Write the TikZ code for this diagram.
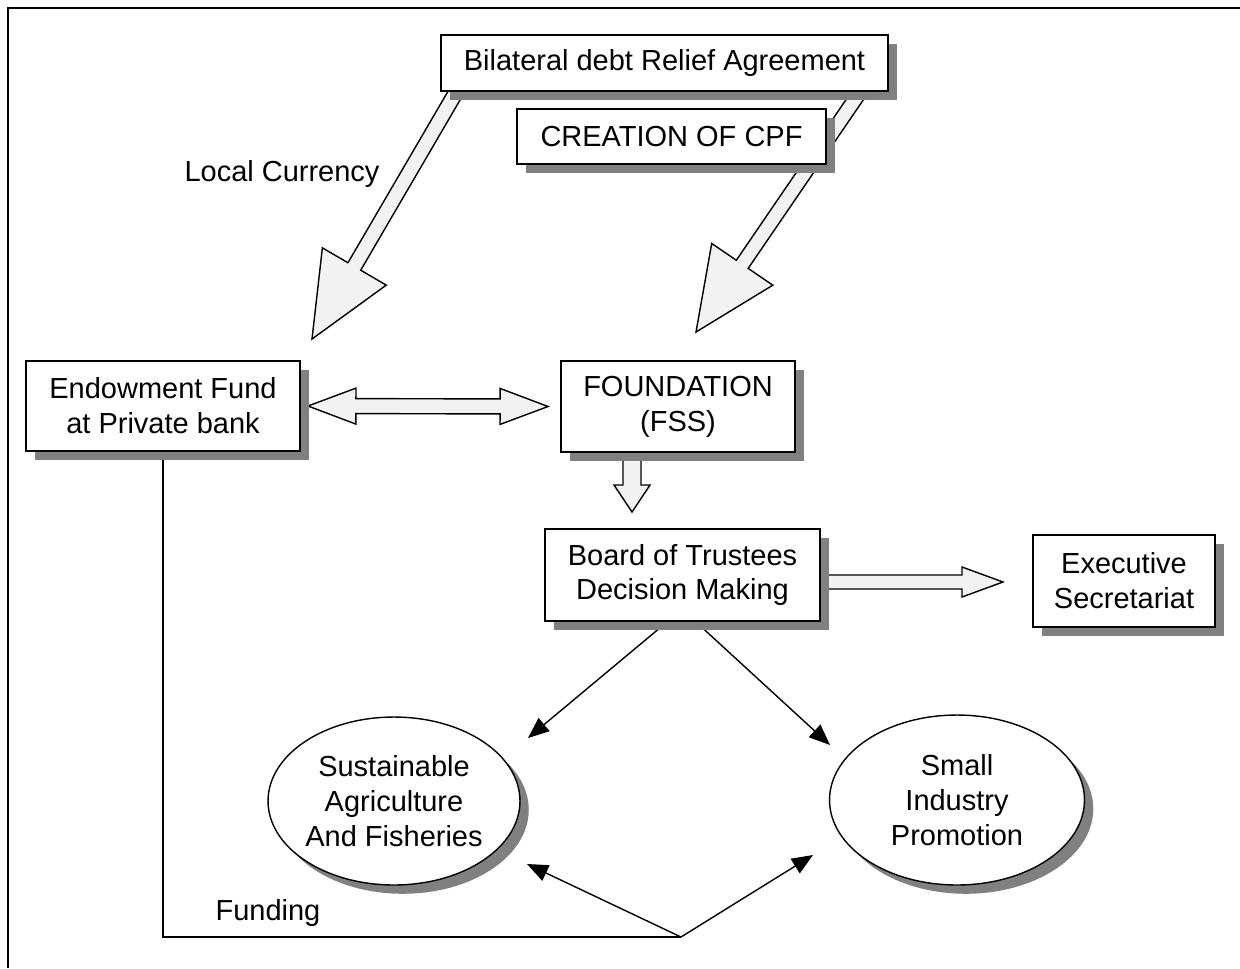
\documentclass[tikz,border=0pt]{standalone}
\usepackage{fontspec}
\setmainfont{Liberation Sans}
\usetikzlibrary{calc,shapes.geometric,shadows,backgrounds,arrows.meta}
\tikzset{
  txt/.style={font=\fontsize{16.5}{19.8}\selectfont, align=center},
  shad/.style={drop shadow={shadow xshift=5pt, shadow yshift=-5pt, fill=black!50, opacity=1}},
  sbox/.style={txt, shad, draw, line width=1.1pt, fill=white, inner sep=0pt},
  soval/.style={txt, shad, ellipse, draw, line width=0.8pt, fill=white, inner sep=0pt},
  fat/.style={draw, line width=0.8pt, fill=black!5, line join=miter},
  thin/.style={line width=0.8pt, -{Triangle[length=0.42cm,width=0.34cm]}},
  plain/.style={line width=0.8pt}
}
\newcommand\fatarr[6]{%
  \coordinate (#1h) at ($(#3)!#6!(#2)$);
  \draw[fat] ($(#2)!#4!90:(#3)$) -- ($(#1h)!#4!90:(#3)$) -- ($(#1h)!#5!90:(#3)$) -- (#3)
    -- ($(#1h)!#5!-90:(#3)$) -- ($(#1h)!#4!-90:(#3)$) -- ($(#2)!#4!-90:(#3)$) -- cycle;}
\newcommand\dblarr[6]{%
  \coordinate (#1a) at ($(#2)!#6!(#3)$);
  \coordinate (#1b) at ($(#3)!#6!(#2)$);
  \draw[fat] (#2) -- ($(#1a)!#5!90:(#3)$) -- ($(#1a)!#4!90:(#3)$) -- ($(#1b)!#4!-90:(#2)$)
    -- ($(#1b)!#5!-90:(#2)$) -- (#3) -- ($(#1b)!#5!90:(#2)$) -- ($(#1b)!#4!90:(#2)$)
    -- ($(#1a)!#4!-90:(#3)$) -- ($(#1a)!#5!-90:(#3)$) -- cycle;}
\begin{document}
\begin{tikzpicture}[x=0.02cm,y=-0.02cm]
\useasboundingbox (0,0) rectangle (1240,968);
\draw[line width=1.2pt] (8,968) -- (8,8) -- (1240,8);

% boxes
\node[sbox, minimum width=8.94cm, minimum height=1.12cm] (bilat) at (664.5,63) {Bilateral debt Relief Agreement};
\node[sbox, minimum width=6.18cm, minimum height=1.10cm] (cpf) at (671.5,136.5) {CREATION OF CPF};
\node[sbox, minimum width=5.48cm, minimum height=1.80cm] (endow) at (163,406) {Endowment Fund\\at Private bank};
\node[sbox, minimum width=4.68cm, minimum height=1.82cm] (found) at (678,406.5) {FOUNDATION\\(FSS)};
\node[sbox, minimum width=5.50cm, minimum height=1.84cm] (board) at (682.5,575) {Board of Trustees\\Decision Making};
\node[sbox, minimum width=3.64cm, minimum height=1.84cm] (exec) at (1124,581) {Executive\\Secretariat};
\node[soval, minimum width=5.04cm, minimum height=3.36cm] (agri) at (394,801) {Sustainable\\Agriculture\\And Fisheries};
\node[soval, minimum width=5.10cm, minimum height=3.40cm] (small) at (957,800) {Small\\Industry\\Promotion};

% labels
\node[txt] (lc) at (282,174) {Local Currency};
\node[txt] (fund) at (268,913) {Funding};

% connectors
\coordinate (lcs) at (469,70);
\coordinate (lct) at (312,339);
\coordinate (rcs) at (875,70);
\coordinate (rct) at (696,332);
\coordinate (dl) at ($(endow.east)+(7,0)$);
\coordinate (dr) at ($(found.west)+(-12,0)$);
\coordinate (dns) at (632,452);
\coordinate (dnt) at (632,512);
\coordinate (rts) at (820,582);
\coordinate (rtt) at (1003,582);
\coordinate (b1) at ($(board.south)+(-15.5,0)$);
\coordinate (b2) at ($(board.south)+(13.5,0)$);
\coordinate (t1) at (528,738);
\coordinate (t2) at (830,745);
\coordinate (fc) at (163,937);
\coordinate (fj) at (681,937);
\coordinate (t3) at (527,864);
\coordinate (t4) at (813,855);

\begin{pgfonlayer}{background}
\fatarr{la}{lcs}{lct}{0.148cm}{0.74cm}{1.68cm}
\fatarr{ra}{rcs}{rct}{0.144cm}{0.74cm}{1.64cm}
\dblarr{da}{dl}{dr}{0.15cm}{0.36cm}{0.96cm}
\fatarr{va}{dns}{dnt}{0.18cm}{0.36cm}{0.54cm}
\fatarr{ha}{rts}{rtt}{0.14cm}{0.30cm}{0.82cm}
\draw[thin] (b1) -- (t1);
\draw[thin] (b2) -- (t2);
\draw[plain] (endow.south -| fc) -- (fc) -- (fj);
\draw[thin] (fj) -- (t3);
\draw[thin] (fj) -- (t4);
\end{pgfonlayer}
\end{tikzpicture}
\end{document}
